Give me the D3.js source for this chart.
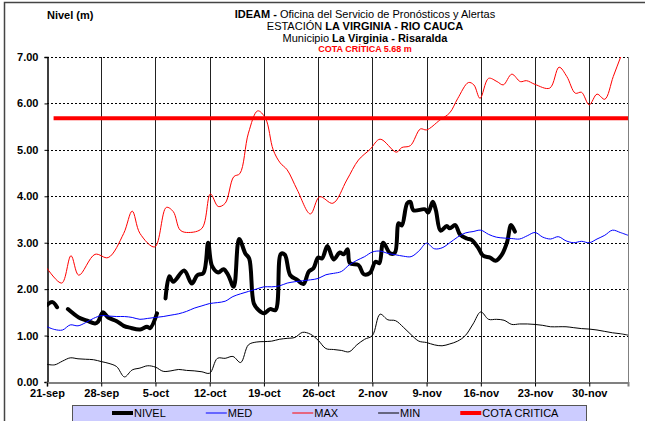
<!DOCTYPE html>
<meta charset="utf-8">
<style>
body { margin: 0; background: #fff; }
svg { font-family: "Liberation Sans", Arial, sans-serif; }
.ylab, .xlab { font-size: 11px; font-weight: bold; fill: #000; }
.hgrid line { stroke: #000; stroke-dasharray: 2,2; shape-rendering: crispEdges; }
.vgrid line { stroke: #222; shape-rendering: crispEdges; }
.legend text { font-size: 11px; fill: #000; }
</style>
<body>
<div id="chart"></div>
<script src="https://cdn.jsdelivr.net/npm/d3@7"></script>
<script>
// day offsets counted from 21-sep
var tickDays = [0, 7, 14, 21, 28, 35, 42, 49, 56, 63, 70];
var tickLabels = ["21-sep", "28-sep", "5-oct", "12-oct", "19-oct", "26-oct", "2-nov", "9-nov", "16-nov", "23-nov", "30-nov"];
var yTicks = [0, 1, 2, 3, 4, 5, 6, 7];

// daily MED / MIN, day 0..75
var medValues = [1.19,1.13,1.12,1.23,1.21,1.28,1.37,1.43,1.42,1.41,
  1.41,1.39,1.35,1.37,1.39,1.41,1.44,1.47,1.52,1.59,
  1.64,1.69,1.71,1.74,1.84,1.90,1.95,2.00,2.05,2.05,
  2.07,2.13,2.16,2.18,2.20,2.23,2.31,2.34,2.38,2.52,
  2.62,2.70,2.80,2.82,2.77,2.74,2.71,2.70,2.82,2.99,
  2.87,2.89,3.00,3.12,3.21,3.24,3.27,3.18,3.12,3.10,
  3.09,3.08,3.15,3.22,3.12,3.08,3.13,3.04,3.00,3.03,
  3.00,3.08,3.16,3.27,3.22,3.16];
var minValues = [0.38,0.37,0.45,0.52,0.50,0.49,0.48,0.44,0.40,0.33,
  0.11,0.26,0.30,0.35,0.32,0.23,0.24,0.27,0.25,0.24,
  0.22,0.19,0.51,0.51,0.55,0.42,0.80,0.86,0.87,0.88,
  0.92,0.94,0.96,1.07,1.03,0.90,0.72,0.70,0.68,0.65,
  0.80,0.92,1.00,1.46,1.34,1.32,1.18,1.02,0.88,0.85,
  0.80,0.78,0.82,0.88,1.00,1.25,1.51,1.35,1.35,1.33,
  1.24,1.25,1.25,1.24,1.22,1.19,1.19,1.19,1.17,1.15,
  1.14,1.12,1.09,1.06,1.04,1.01];

// MAX as [day, value]
var maxPoints = [[0,2.45],[1.9,2.13],[3.1,2.72],[4.1,2.30],[6.2,2.75],[7.9,2.68],[9.9,3.20],[11,3.68],
  [12,3.20],[13.9,2.91],[15.4,3.76],[16.3,3.67],[17.2,3.27],[18.3,3.22],[20,3.31],[21.1,4.05],
  [22.1,3.78],[23,3.85],[24.1,4.42],[24.9,4.49],[26,5.36],[27.2,5.84],[28.2,5.68],[29.2,5.00],
  [30.1,4.72],[31,4.57],[32.3,4.14],[34,3.62],[35.2,3.99],[36.9,3.85],[38.7,4.35],[40.2,4.78],
  [41.7,5.01],[43,5.23],[45.1,4.95],[45.8,5.05],[46.9,5.09],[48.2,5.45],[49,5.43],[50.7,5.64],
  [52,5.80],[53,6.10],[54.4,6.45],[55.1,6.40],[55.9,6.11],[57,6.54],[58.1,6.47],[58.9,6.40],
  [60,6.63],[61.1,6.47],[61.9,6.49],[63,6.41],[64.9,6.33],[66.1,6.78],[67.1,6.58],[68.2,6.22],
  [69,6.24],[70,5.97],[71,6.20],[72,6.09],[73.1,6.58],[74.1,7.02],[75,7.40]];

// NIVEL as [day, value], null = no data
var nivelPoints = [[0,1.66],[0.7,1.72],[1.3,1.61],[2,null],
  [2.7,1.57],[4.1,1.39],[5.2,1.32],[6.2,1.26],[6.6,1.30],[7.2,1.50],[7.9,1.39],[9,1.31],[9.9,1.21],
  [10.7,1.17],[12,1.13],[12.9,1.19],[13.3,1.16],[14.2,1.48],[14.8,null],
  [15.3,1.80],[15.8,2.28],[16.3,2.16],[17.7,2.40],[18.7,2.12],[19.4,2.30],[20.2,2.35],[20.8,3.00],
  [21.3,2.50],[22.1,2.36],[22.8,2.43],[23.4,2.30],[24.1,2.05],[24.8,3.08],[25.6,2.77],[26.1,2.66],
  [26.7,1.69],[27.3,1.55],[28,1.48],[28.8,1.57],[29.5,1.55],[30.2,2.76],[30.7,2.74],[31.4,2.30],
  [32.3,2.20],[33.1,2.11],[33.8,2.38],[34.4,2.45],[35,2.68],[35.5,2.66],[36.2,2.93],[37,2.64],
  [37.8,2.79],[38.3,2.75],[38.8,2.86],[39.1,2.56],[40.2,2.52],[40.9,2.32],[41.7,2.35],[42.4,2.59],
  [42.9,2.56],[43.4,3.00],[44.3,2.77],[44.9,2.78],[45.4,3.42],[45.8,3.37],[46.5,3.85],[46.9,3.88],
  [47.3,3.70],[48.8,3.72],[49.2,3.65],[49.8,3.88],[50.2,3.70],[50.8,3.26],[51.6,3.36],[52,3.31],
  [52.7,3.38],[53.3,3.18],[54.2,3.09],[54.8,3.06],[55.7,2.88],[56.3,2.72],[57.2,2.68],[57.9,2.61],
  [58.7,2.74],[59.4,3.02],[59.9,3.38],[60.4,3.24]];

var cotaCritica = 5.68;
var cotaDays = [0.85, 75];

var legendNames = ["NIVEL", "MED", "MAX", "MIN", "COTA CRITICA"];
var legendColors = ["#000", "#0000ff", "#ff0000", "#000", "#ff0000"];
var legendWidths = [4, 1, 1, 1, 4];

var width = 645, height = 421;
var plot = {left: 47, right: 628, top: 57, bottom: 382};

var svg = d3.select("#chart").append("svg")
    .attr("width", width)
    .attr("height", height);

// outer frame
svg.append("rect")
    .attr("x", 4.5).attr("y", 2.5)
    .attr("width", 700).attr("height", 500)
    .attr("fill", "none").attr("stroke", "#444").attr("stroke-width", 1.5);

var x = d3.scaleLinear().domain([0, 75]).range([plot.left, plot.right]);
var y = d3.scaleLinear().domain([0, 7]).range([plot.bottom, plot.top]);

// titles
var title = svg.append("g").attr("text-anchor", "middle").style("font-size", "11px");
var t1 = title.append("text").attr("x", 365).attr("y", 18);
t1.append("tspan").attr("font-weight", "bold").text("IDEAM - ");
t1.append("tspan").text("Oficina del Servicio de Pronósticos y Alertas");
var t2 = title.append("text").attr("x", 365).attr("y", 30);
t2.append("tspan").text("ESTACIÓN ");
t2.append("tspan").attr("font-weight", "bold").text("LA VIRGINIA - RIO CAUCA");
var t3 = title.append("text").attr("x", 365).attr("y", 42);
t3.append("tspan").text("Municipio ");
t3.append("tspan").attr("font-weight", "bold").text("La Virginia - Risaralda");
title.append("text").attr("x", 365).attr("y", 52)
    .attr("fill", "#ff0000").attr("font-weight", "bold").style("font-size", "9px")
    .text("COTA CRÍTICA 5.68 m");

svg.append("text").attr("x", 47).attr("y", 19)
    .attr("font-weight", "bold").style("font-size", "11px")
    .text("Nivel (m)");

// gridlines
svg.append("g").attr("class", "hgrid")
  .selectAll("line").data(yTicks.slice(1)).enter().append("line")
    .attr("x1", plot.left).attr("x2", plot.right)
    .attr("y1", function (d) { return Math.round(y(d)) + 0.5; })
    .attr("y2", function (d) { return Math.round(y(d)) + 0.5; });

svg.append("g").attr("class", "vgrid")
  .selectAll("line").data(tickDays.slice(1)).enter().append("line")
    .attr("x1", function (d) { return Math.round(x(d)) + 0.5; })
    .attr("x2", function (d) { return Math.round(x(d)) + 0.5; })
    .attr("y1", plot.top).attr("y2", plot.bottom);

// plot border (right side)
svg.append("line")
    .attr("x1", plot.right + 0.5).attr("x2", plot.right + 0.5)
    .attr("y1", plot.top).attr("y2", plot.bottom)
    .attr("stroke", "#808080");

// axes
var yAxis = d3.axisLeft(y).tickValues(yTicks).tickSize(3).tickFormat(d3.format(".2f"));
var gy = svg.append("g").attr("transform", "translate(" + (plot.left + 0.5) + ",0)").call(yAxis);
gy.select(".domain").attr("stroke", "#000").attr("stroke-width", 1.5);
gy.selectAll("text").attr("class", "ylab").attr("x", -9);

var xAxis = d3.axisBottom(x).tickValues(tickDays).tickSize(4)
    .tickFormat(function (d, i) { return tickLabels[i]; });
var gx = svg.append("g").attr("transform", "translate(0," + (plot.bottom + 0.5) + ")").call(xAxis);
gx.select(".domain").attr("stroke", "#808080").attr("stroke-width", 2);
gx.selectAll("text").attr("class", "xlab").attr("y", 7);

// clip
svg.append("clipPath").attr("id", "clip").append("rect")
    .attr("x", plot.left).attr("y", plot.top)
    .attr("width", plot.right - plot.left).attr("height", plot.bottom - plot.top);

var g = svg.append("g").attr("clip-path", "url(#clip)");

var linePts = d3.line()
    .defined(function (d) { return d[1] !== null; })
    .x(function (d) { return x(d[0]); })
    .y(function (d) { return y(d[1]); })
    .curve(d3.curveCatmullRom.alpha(0.5));

var lineDaily = d3.line()
    .x(function (d, i) { return x(i); })
    .y(function (d) { return y(d); })
    .curve(d3.curveCatmullRom.alpha(0.5));

g.append("path").datum(nivelPoints).attr("d", linePts)
    .attr("fill", "none").attr("stroke", "#000").attr("stroke-width", 4)
    .attr("stroke-linejoin", "round").attr("stroke-linecap", "round");
g.append("path").datum(medValues).attr("d", lineDaily)
    .attr("fill", "none").attr("stroke", "#0000ff").attr("stroke-width", 1);
g.append("path").datum(maxPoints).attr("d", linePts)
    .attr("fill", "none").attr("stroke", "#ff0000").attr("stroke-width", 1);
g.append("path").datum(minValues).attr("d", lineDaily)
    .attr("fill", "none").attr("stroke", "#000").attr("stroke-width", 1);
g.append("line")
    .attr("x1", x(cotaDays[0])).attr("x2", x(cotaDays[1]))
    .attr("y1", y(cotaCritica)).attr("y2", y(cotaCritica))
    .attr("stroke", "#ff0000").attr("stroke-width", 4);

// legend
var legend = svg.append("g").attr("class", "legend");
legend.append("rect")
    .attr("x", 72.5).attr("y", 405.5).attr("width", 514).attr("height", 24)
    .attr("fill", "#ccccff").attr("stroke", "#555").attr("stroke-width", 1);

var lx = 112;
legendNames.forEach(function (name, i) {
  legend.append("line")
      .attr("x1", lx).attr("x2", lx + 21)
      .attr("y1", 413).attr("y2", 413)
      .attr("stroke", legendColors[i]).attr("stroke-width", legendWidths[i]);
  var t = legend.append("text").attr("x", lx + 22).attr("y", 417).text(name);
  lx += 22 + t.node().getComputedTextLength() + 40;
});
</script>
